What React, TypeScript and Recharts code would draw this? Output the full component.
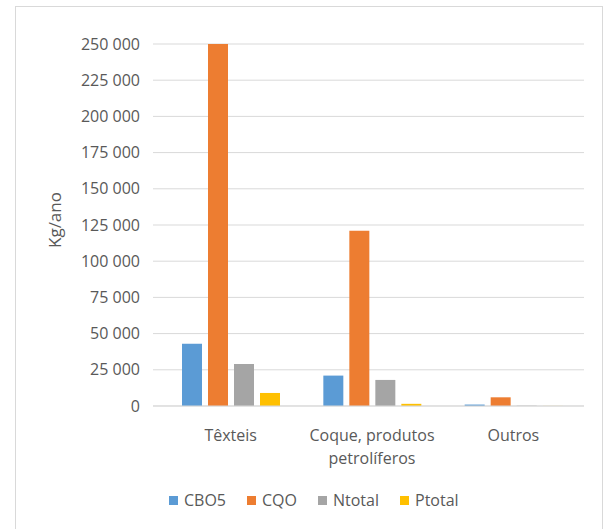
import React from 'react';
import { BarChart, Bar, XAxis, YAxis, CartesianGrid, Legend } from 'recharts';

const categories = ['Têxteis', 'Coque, produtos petrolíferos', 'Outros'];
const cbo5 = [43000, 21000, 1000];
const cqo = [250000, 121000, 6000];
const ntotal = [29000, 18000, 200];
const ptotal = [9000, 1500, 50];
const yTicks = [0, 25000, 50000, 75000, 100000, 125000, 150000, 175000, 200000, 225000, 250000];

const seriesNames = ['CBO5', 'CQO', 'Ntotal', 'Ptotal'];
const colors = ['#5B9BD5', '#ED7D31', '#A5A5A5', '#FFC000'];

const data = categories.map((c, i) => ({
  name: c,
  CBO5: cbo5[i],
  CQO: cqo[i],
  Ntotal: ntotal[i],
  Ptotal: ptotal[i],
}));

const FONT = '"Open Sans", sans-serif';
const TEXT = '#595959';
const FS = 16;

const fmt = (v: number) => String(v).replace(/\B(?=(\d{3})+(?!\d))/g, ' ');

const XTick = (props: any) => {
  const { x, y, payload } = props;
  const label: string = payload.value;
  let lines = [label];
  if (label.length > 16) {
    const idx = label.lastIndexOf(' ');
    lines = [label.slice(0, idx), label.slice(idx + 1)];
  }
  return (
    <g>
      {lines.map((l, i) => (
        <text key={i} x={x} y={y + 27 + i * 23} textAnchor="middle" fill={TEXT} fontSize={FS} fontFamily={FONT}>
          {l}
        </text>
      ))}
    </g>
  );
};

const YLabel = (props: any) => {
  const vb = props.viewBox;
  const cx = vb.x + 54;
  const cy = vb.y + vb.height / 2 - 5;
  return (
    <text x={cx} y={cy} transform={`rotate(-90 ${cx} ${cy})`} textAnchor="middle" dominantBaseline="central" fill={TEXT} fontSize={17} fontFamily={FONT}>
      Kg/ano
    </text>
  );
};

const LegendContent = () => (
  <div style={{ display: 'flex', alignItems: 'center', height: 20, fontFamily: FONT, fontSize: FS, color: TEXT, whiteSpace: 'nowrap' }}>
    {seriesNames.map((n, i) => (
      <div key={n} style={{ display: 'flex', alignItems: 'center', marginRight: i < seriesNames.length - 1 ? 21 : 0 }}>
        <span style={{ display: 'inline-block', width: 9, height: 9, background: colors[i], marginRight: 6 }} />
        <span>{n}</span>
      </div>
    ))}
  </div>
);

export default function App() {
  return (
    <div style={{ position: 'fixed', left: 0, top: 0, width: 606, height: 529, background: '#fff', overflow: 'hidden' }}>
      <div style={{ position: 'absolute', left: 15, top: 6, width: 588, height: 540, border: '1px solid #D9D9D9', boxSizing: 'border-box' }} />
      <div style={{ position: 'absolute', left: 0, top: 0 }}>
        <BarChart width={606} height={529} data={data} margin={{ top: 44, right: 22, bottom: 73, left: 0 }} barSize={20} barGap={6}>
          <CartesianGrid vertical={false} stroke="#D9D9D9" />
          <XAxis dataKey="name" height={30} tick={<XTick />} tickLine={false} axisLine={{ stroke: '#D9D9D9' }} padding={{ left: 7, right: 0 }} interval={0} />
          <YAxis
            width={153}
            domain={[0, 250000]}
            ticks={yTicks}
            tickFormatter={fmt}
            tickLine={false}
            axisLine={false}
            tickSize={0}
            tickMargin={13}
            tick={{ fill: TEXT, fontSize: FS, fontFamily: FONT }}
            interval={0}
            label={<YLabel />}
          />
          <Legend content={<LegendContent />} wrapperStyle={{ left: 169, top: 490, width: 'auto', height: 20 }} />
          {seriesNames.map((n, i) => (
            <Bar key={n} dataKey={n} fill={colors[i]} isAnimationActive={false} />
          ))}
        </BarChart>
      </div>
    </div>
  );
}
